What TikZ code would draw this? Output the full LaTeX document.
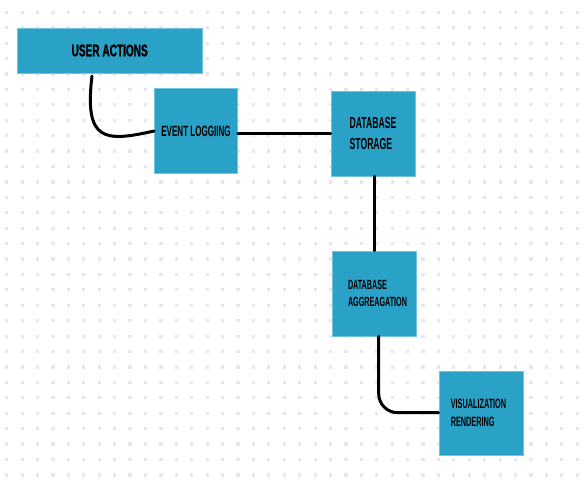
\documentclass[tikz,border=0pt]{standalone}
\usepackage{fontspec}
\setmainfont{Liberation Sans}
\newfontfamily\condreg[FakeStretch=0.54]{Liberation Sans Bold}
\newfontfamily\condbold[FakeStretch=0.6,FakeBold=1.2]{Liberation Sans Bold}
\definecolor{boxblue}{HTML}{2AA1C6}
\definecolor{boxedge}{HTML}{70C4DE}
\definecolor{dotgrey}{HTML}{E6E6EE}
\tikzset{
  flowbox/.style={rectangle, fill=boxblue, draw=boxedge, line width=0.8pt,
    inner sep=0pt, align=left, text=black},
  wire/.style={line width=3pt, black, line cap=round}
}
\begin{document}
\begin{tikzpicture}[x=1pt,y=-1pt]
\useasboundingbox (0,0) rectangle (584,488);
\fill[white] (0,0) rectangle (584,488);
% dot grid
\foreach \i in {0,...,37}{
  \foreach \j in {0,...,30}{
    \fill[dotgrey] ({6.7+15.42*\i-1.6},{12.3+15.42*\j-1.6}) rectangle ++(3.2,3.2);
  }
}
% boxes
\node[flowbox, minimum width=185pt, minimum height=45pt,
  font={\condbold\fontsize{16.8}{18}\selectfont}] (ua) at (109.7,50.5) {USER ACTIONS};
\node[flowbox, minimum width=83pt, minimum height=85pt,
  font={\condreg\fontsize{14.9}{16}\selectfont}] (el) at (196,131) {EVENT LOGGIING};
\node[flowbox, minimum width=84pt, minimum height=85pt,
  font={\condreg\fontsize{16}{20.6}\selectfont}] (ds) at (373,133.5) {DATABASE\\STORAGE};
\node[flowbox, minimum width=84pt, minimum height=85pt,
  font={\condreg\fontsize{13.3}{17.4}\selectfont}] (da) at (374,293.5)
  {\hspace*{7pt}DATABASE\\\hspace*{7pt}AGGREAGATION};
\node[flowbox, minimum width=84pt, minimum height=84pt,
  font={\condreg\fontsize{13.5}{18.4}\selectfont}] (vr) at (481,413)
  {VISUALIZATION\hspace*{5pt}\\RENDERING};
% connectors
\coordinate (c1) at (92,76);
\draw[wire] (c1) .. controls (84,142) and (105,142) .. (el.west |- 0,131);
\draw[wire] (el.east |- 0,133) -- (ds.west |- 0,133);
\draw[wire] (ds.south -| 374.3,0) -- (da.north -| 374.3,0);
\draw[wire, rounded corners=19pt] (da.south -| 378.7,0) -- (378.7,412.7) -- (vr.west |- 0,412.7);
\end{tikzpicture}
\end{document}
